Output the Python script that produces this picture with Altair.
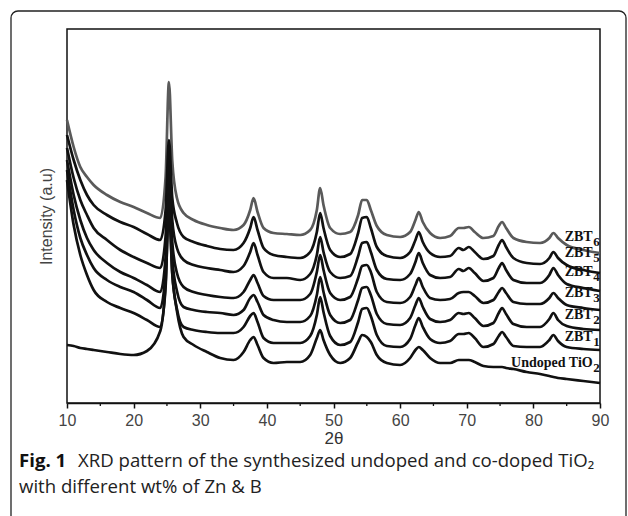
import altair as alt
import pandas as pd

# ---------------- data ----------------
two_theta = [10, 11, 12, 13, 14, 16, 18, 20, 22, 24, 24.8, 25.3, 25.8, 26.5, 27.5,
             29, 31, 33, 35, 36.5, 37.5, 38, 38.6, 39.5, 41, 43, 45, 46.5, 47.5, 48,
             48.5, 49.5, 51, 52.5, 53.7, 54.3, 55, 55.6, 56.5, 58, 60, 61.5, 62.3, 62.8,
             63.4, 64.5, 66, 67.5, 68.8, 69.5, 70.3, 71.2, 72.5, 74, 74.8, 75.3, 75.9,
             77, 79, 81, 82.4, 83, 83.7, 85, 87.5, 90]

zbt6 = [283, 256, 236, 226, 218, 208, 201, 196, 190, 185, 226, 321, 242, 205, 190,
        183, 178, 175, 173, 178, 193, 205, 191, 175, 170, 169, 168, 173, 193, 215,
        198, 175, 169, 171, 188, 203, 203, 193, 177, 168, 166, 171, 183, 191, 181,
        170, 165, 167, 175, 175, 176, 171, 165, 167, 177, 181, 175, 165, 161, 160,
        165, 170, 165, 158, 153, 150]
zbt5 = [268, 243, 223, 208, 198, 188, 181, 176, 169, 163, 193, 263, 205, 180, 166,
        161, 157, 154, 153, 160, 175, 186, 173, 155, 148, 146, 145, 151, 171, 190,
        175, 153, 146, 149, 170, 185, 186, 175, 156, 147, 145, 151, 163, 171, 161,
        150, 146, 147, 155, 153, 156, 151, 144, 147, 158, 163, 156, 145, 140, 139,
        145, 151, 145, 138, 133, 130]
zbt4 = [255, 225, 203, 188, 175, 163, 153, 146, 140, 135, 167, 243, 183, 155, 143,
        138, 135, 133, 131, 137, 151, 160, 148, 131, 125, 125, 123, 129, 148, 166,
        151, 131, 125, 127, 147, 160, 161, 151, 133, 124, 123, 129, 141, 150, 140,
        128, 125, 126, 134, 132, 135, 130, 122, 125, 135, 140, 133, 123, 120, 120,
        128, 135, 128, 119, 115, 112]
zbt3 = [243, 208, 183, 165, 153, 140, 131, 125, 118, 111, 146, 228, 161, 130, 116,
        111, 108, 106, 105, 111, 123, 128, 120, 107, 103, 103, 103, 109, 131, 148,
        133, 110, 103, 106, 125, 137, 138, 131, 111, 101, 100, 106, 118, 125, 116,
        105, 103, 104, 110, 111, 111, 107, 100, 103, 111, 115, 110, 101, 99, 99,
        105, 110, 105, 98, 95, 93]
zbt2 = [233, 193, 165, 148, 135, 123, 116, 111, 103, 95, 132, 218, 145, 112, 96,
        93, 91, 90, 88, 93, 105, 108, 101, 88, 83, 81, 81, 87, 108, 126,
        111, 88, 80, 83, 103, 115, 116, 108, 89, 79, 78, 85, 98, 105, 96,
        84, 81, 83, 90, 89, 90, 85, 77, 80, 90, 95, 89, 79, 76, 76,
        84, 90, 83, 77, 74, 73]
zbt1 = [223, 178, 148, 128, 113, 101, 95, 90, 83, 76, 116, 208, 129, 94, 76,
        73, 71, 70, 70, 76, 87, 90, 81, 65, 60, 60, 60, 67, 88, 106,
        91, 67, 58, 61, 81, 94, 95, 87, 68, 57, 56, 64, 78, 85, 76,
        64, 60, 62, 69, 69, 70, 65, 56, 59, 67, 71, 66, 57, 56, 56,
        63, 68, 62, 56, 54, 53]
undoped = [58, 57, 55, 54, 53, 51, 49, 48, 52, 72, 120, 193, 130, 92, 66,
           58, 51, 45, 43, 51, 63, 66, 58, 45, 40, 41, 41, 48, 65, 73,
           63, 48, 40, 45, 61, 68, 66, 61, 48, 40, 38, 45, 53, 56, 53,
           45, 40, 40, 43, 43, 43, 41, 37, 36, 36, 36, 35, 34, 31, 29,
           27, 26, 25, 24, 22, 20]

series_names = ["ZBT6", "ZBT5", "ZBT4", "ZBT3", "ZBT2", "ZBT1", "Undoped TiO2"]
series_values = [zbt6, zbt5, zbt4, zbt3, zbt2, zbt1, undoped]
series_colors = ["#5a5a5a", "#111111", "#111111", "#111111", "#111111", "#111111", "#111111"]

label_main = ["ZBT", "ZBT", "ZBT", "ZBT", "ZBT", "ZBT", "Undoped TiO"]
label_sub = ["6", "5", "4", "3", "2", "1", "2"]
label_y = [166, 150, 131, 110, 88, 66, 40]
label_x = 88.9

major_ticks = [10, 20, 30, 40, 50, 60, 70, 80, 90]
minor_ticks = [15, 25, 35, 45, 55, 65, 75, 85]

caption_bold = "Fig. 1"
caption_line1 = "XRD pattern of the synthesized undoped and co-doped TiO\u2082"
caption_line2 = "with different wt% of Zn & B"

# ---------------- tables ----------------
rows = []
for name, vals in zip(series_names, series_values):
    for t, v in zip(two_theta, vals):
        rows.append({"two_theta": t, "intensity": v, "sample": name})
df = pd.DataFrame(rows)

labels_df = pd.DataFrame({"main": label_main, "sub": label_sub, "y": label_y,
                          "x": [label_x] * len(label_y)})
minor_df = pd.DataFrame({"t": minor_ticks})

W, H = 533, 374
x_scale = alt.Scale(domain=[10, 90], nice=False, zero=False)
y_scale = alt.Scale(domain=[0, 374], nice=False, zero=False)

axis_font = "Liberation Sans"

lines = alt.Chart(df).mark_line(strokeWidth=2.7, strokeJoin="round",
                                interpolate="monotone").encode(
    x=alt.X("two_theta:Q", scale=x_scale,
            axis=alt.Axis(values=major_ticks, title="2\u03b8", format="d",
                          grid=False, domain=True, domainColor="#111", domainWidth=1.5,
                          tickColor="#111", tickSize=5, tickWidth=1.5,
                          labelFont=axis_font, labelFontSize=16, labelColor="#444",
                          labelPadding=4, labelFlush=False,
                          titleFont=axis_font, titleFontSize=17, titleFontWeight="normal",
                          titleColor="#333", titlePadding=2)),
    y=alt.Y("intensity:Q", scale=y_scale,
            axis=alt.Axis(title="Intensity (a.u)", labels=False, ticks=False,
                          domain=False, grid=False,
                          titleFont=axis_font, titleFontSize=16, titleFontWeight="normal",
                          titleColor="#444", titlePadding=13)),
    color=alt.Color("sample:N", scale=alt.Scale(domain=series_names, range=series_colors),
                    legend=None),
    detail="sample:N",
)

minor = alt.Chart(minor_df).mark_rule(color="#111", strokeWidth=1.3).encode(
    x=alt.X("t:Q", scale=x_scale),
    y=alt.value(H), y2=alt.value(H + 3),
)

lab_main = alt.Chart(labels_df).mark_text(
    font="Liberation Serif", fontWeight="bold", fontSize=14, align="right",
    baseline="middle", color="#111").encode(
    x=alt.X("x:Q", scale=x_scale), y=alt.Y("y:Q", scale=y_scale), text="main:N")

lab_sub = alt.Chart(labels_df).mark_text(
    font="Liberation Serif", fontWeight="bold", fontSize=13, align="left",
    baseline="middle", dy=5, dx=0.5, color="#111").encode(
    x=alt.X("x:Q", scale=x_scale), y=alt.Y("y:Q", scale=y_scale), text="sub:N")

one = alt.Data(values=[{"a": 1}])

border = alt.Chart(one).mark_rect(fill=None, fillOpacity=0, stroke="#222",
                                  strokeWidth=1.3, cornerRadius=7).encode(
    x=alt.value(-56), x2=alt.value(559), y=alt.value(-18), y2=alt.value(505))

cap_bold = alt.Chart(one).mark_text(font="Open Sans", fontWeight="bold", fontSize=18.6,
                                    align="left", baseline="alphabetic",
                                    color="#111").encode(
    x=alt.value(-48), y=alt.value(438), text=alt.value(caption_bold))
cap1 = alt.Chart(one).mark_text(font="Open Sans", fontSize=18.6, align="left",
                                baseline="alphabetic", color="#222").encode(
    x=alt.value(11), y=alt.value(438), text=alt.value(caption_line1))
cap2 = alt.Chart(one).mark_text(font="Open Sans", fontSize=18.6, align="left",
                                baseline="alphabetic", color="#222").encode(
    x=alt.value(-48), y=alt.value(464), text=alt.value(caption_line2))

chart = alt.layer(border, lines, minor, lab_main, lab_sub, cap_bold, cap1, cap2).properties(
    width=W, height=H,
    autosize=alt.AutoSizeParams(type="none"),
    padding={"left": 67, "top": 29, "right": 28, "bottom": 113},
    background="white",
).configure_view(stroke="#111", strokeWidth=1.5)

chart.save("out.html", embed_options={"renderer": "svg", "actions": False})
